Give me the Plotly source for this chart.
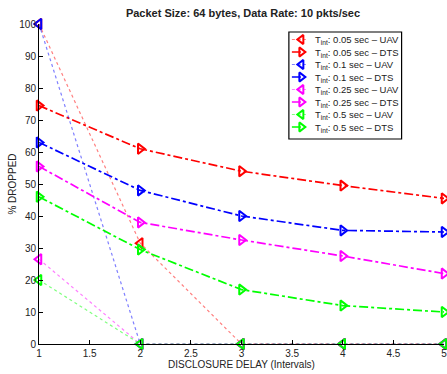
import plotly.graph_objects as go

delay = [1, 2, 3, 4, 5]

uav_005 = [100, 31.5, 0, 0, 0]
dts_005 = [74.5, 61, 54, 49.5, 45.5]
uav_01 = [100, 0, 0, 0, 0]
dts_01 = [63, 48, 40, 35.5, 35]
uav_025 = [26.5, 0, 0, 0, 0]
dts_025 = [55.5, 38, 32.5, 27.5, 22]
uav_05 = [20, 0, 0, 0, 0]
dts_05 = [46, 29.5, 17, 12, 10]

labels = [
    "T<sub>int</sub>: 0.05 sec \u2013 UAV",
    "T<sub>int</sub>: 0.05 sec \u2013 DTS",
    "T<sub>int</sub>: 0.1 sec \u2013 UAV",
    "T<sub>int</sub>: 0.1 sec \u2013 DTS",
    "T<sub>int</sub>: 0.25 sec \u2013 UAV",
    "T<sub>int</sub>: 0.25 sec \u2013 DTS",
    "T<sub>int</sub>: 0.5 sec \u2013 UAV",
    "T<sub>int</sub>: 0.5 sec \u2013 DTS",
]
series = [uav_005, dts_005, uav_01, dts_01, uav_025, dts_025, uav_05, dts_05]
colors = ["255,0,0", "255,0,0", "0,0,255", "0,0,255", "255,0,255", "255,0,255", "0,255,0", "0,255,0"]

# layout geometry (pixels)
W, H = 447, 374
L, R, T, B = 38.5, 2.5, 24, 30
LEG_X0, LEG_X1, LEG_Y0, LEG_Y1 = 289, 402, 32, 139
LEG_ROW0, LEG_STEP = 39.5, 12.5

fig = go.Figure()
for i, (lab, ys, c) in enumerate(zip(labels, series, colors)):
    is_uav = i % 2 == 0
    solid = f"rgb({c})"
    line = dict(color=f"rgba({c},0.5)" if is_uav else solid,
                width=1.2 if is_uav else 1.7,
                dash="dot" if is_uav else "dashdot")
    marker = dict(symbol="triangle-left-open" if is_uav else "triangle-right-open",
                  size=9, color=solid, line=dict(width=2, color=solid))
    fig.add_trace(go.Scatter(x=delay, y=ys, name=lab, mode="lines+markers",
                             line=line, marker=marker, cliponaxis=False, showlegend=False))
    # custom legend entry (pixel-coordinate overlay axes)
    ry = LEG_ROW0 + i * LEG_STEP
    fig.add_trace(go.Scatter(x=[LEG_X0 + 3, LEG_X0 + 17], y=[ry, ry], mode="lines",
                             line=line, xaxis="x2", yaxis="y2", showlegend=False,
                             hoverinfo="skip", cliponaxis=False))
    fig.add_trace(go.Scatter(x=[LEG_X0 + 12.5], y=[ry], mode="markers",
                             marker=dict(symbol=marker["symbol"], size=8, color=solid,
                                         line=dict(width=2, color=solid)),
                             xaxis="x2", yaxis="y2", showlegend=False,
                             hoverinfo="skip", cliponaxis=False))
    fig.add_annotation(x=LEG_X0 + 24, y=ry + 0.5, xref="x2", yref="y2", text=lab,
                       showarrow=False, xanchor="left", yanchor="middle",
                       font=dict(size=9.5, color="#222"))

fig.add_shape(type="rect", xref="x2", yref="y2", x0=LEG_X0, x1=LEG_X1, y0=LEG_Y0, y1=LEG_Y1,
              line=dict(color="black", width=1.2), fillcolor="white", layer="below")

font = "Liberation Sans, Arial, Helvetica, sans-serif"
fig.update_layout(
    width=W, height=H,
    margin=dict(l=L, r=R, t=T, b=B, autoexpand=False),
    paper_bgcolor="white", plot_bgcolor="white",
    font=dict(family=font, size=10, color="#222"),
    title=dict(text="<b>Packet Size: 64 bytes, Data Rate: 10 pkts/sec</b>",
               x=243 / W, xanchor="center", y=1 - 13 / H, yanchor="middle",
               font=dict(size=11, color="#222")),
    xaxis=dict(range=[1, 5], tickvals=[1, 1.5, 2, 2.5, 3, 3.5, 4, 4.5, 5],
               ticktext=["1", "1.5", "2", "2.5", "3", "3.5", "4", "4.5", "5"],
               showgrid=False, zeroline=False, showline=True, linecolor="black", linewidth=1,
               ticks="inside", ticklen=4, tickcolor="black", automargin=False,
               ticklabeloverflow="allow",
               title=dict(text="DISCLOSURE DELAY (Intervals)", standoff=0, font=dict(size=10))),
    yaxis=dict(range=[0, 100], tickvals=list(range(0, 101, 10)),
               showgrid=False, zeroline=False, showline=True, linecolor="black", linewidth=1,
               ticks="inside", ticklen=4, tickcolor="black", automargin=False,
               ticklabeloverflow="allow",
               title=dict(text="% DROPPED", standoff=0, font=dict(size=10))),
    xaxis2=dict(overlaying="x", range=[L, W - R], visible=False, fixedrange=True),
    yaxis2=dict(overlaying="y", range=[H - B, T], visible=False, fixedrange=True),
    showlegend=False,
)

fig.write_html("out.html", config={"displayModeBar": False},
               post_script="document.body.style.margin='0px';")
